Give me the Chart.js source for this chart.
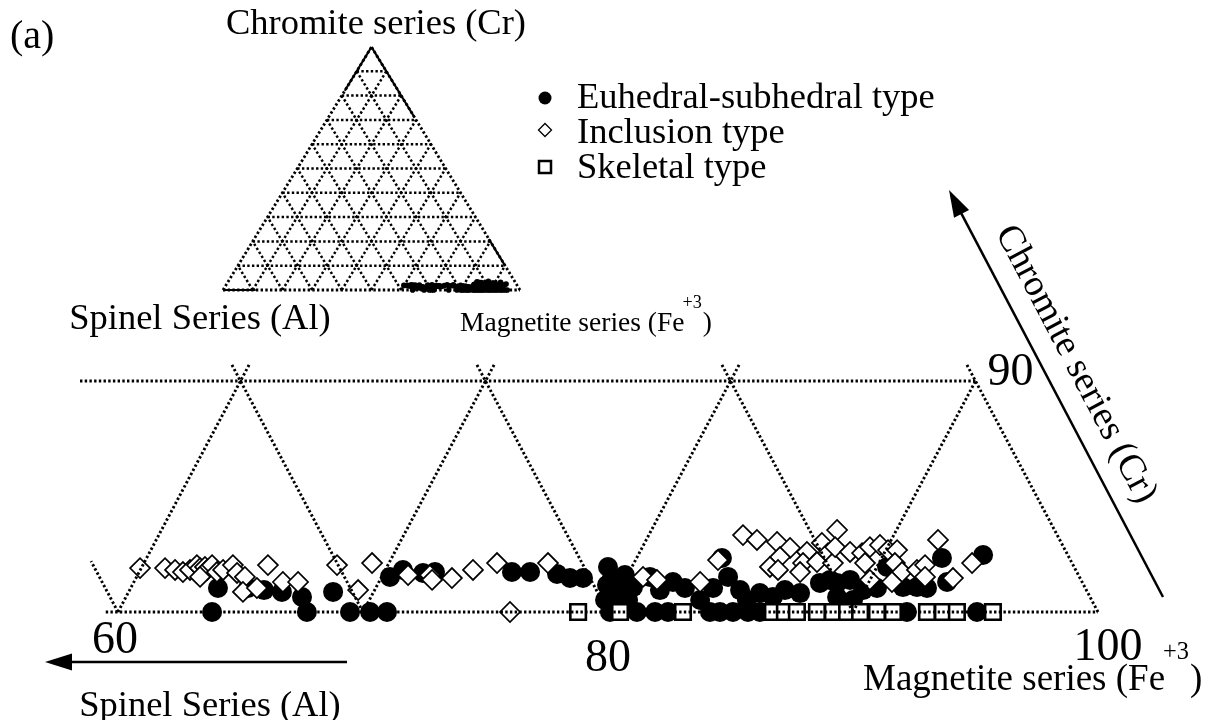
<!DOCTYPE html>
<html>
<head>
<meta charset="utf-8">
<script src="https://cdn.jsdelivr.net/npm/chart.js@4.4.1/dist/chart.umd.min.js"></script>
<style>
  html, body { margin: 0; padding: 0; background: #fff; }
  #spinelChart { display: block; }
</style>
</head>
<body>
<canvas id="spinelChart" width="1212" height="720"></canvas>
<script>
// spinel analyses: position along the Al-Fe base (Fe + Cr/2) and Cr, both in %
var euhedralX = [64.08, 65.31, 65.96, 66.69, 67.51, 68.78, 63.84, 67.71, 69.47, 70.29, 70.98,
    71.10, 71.63, 72.45, 72.94, 76.08, 76.82, 77.92, 78.45, 78.98, 80.00, 79.96, 80.49, 80.29,
    80.16, 80.69, 79.88, 80.82, 81.02, 81.71, 82.12, 82.65, 83.14, 83.76, 84.29, 84.65, 84.90,
    85.39, 85.67, 86.20, 86.73, 87.22, 87.84, 88.65, 89.06, 89.35, 89.35, 89.88, 90.00, 90.41,
    90.98, 91.39, 92.04, 92.61, 93.02, 93.63, 93.84, 95.31,
    80.08, 81.18, 81.92, 82.45, 84.16, 84.57, 85.10, 85.71, 86.20, 92.20, 95.06];
var euhedralCr = [1.04, 1.04, 0.95, 0.87, 0.65, 0.87, 0, 0, 0, 0, 0,
    1.52, 1.82, 1.69, 1.73, 1.73, 1.73, 1.65, 1.47, 1.47, 1.95, 1.17, 0.95, 0.74,
    1.47, 1.60, 0.52, 0.52, 1.08, 1.52, 0.95, 1.30, 1.04, 0.52, 1.04, 2.34, 1.52,
    0.95, 0.52, 0.82, 0.65, 0.95, 0.82, 1.26, 1.39, 1.26, 0.65, 1.39, 0.52, 0.95,
    1.04, 1.95, 1.08, 1.08, 1.04, 2.34, 1.30, 2.47,
    0, 0, 0, 0, 0, 0, 0, 0, 0, 0, 0];

var inclusionX = [60.90, 61.92, 62.33, 62.65, 62.94, 63.22, 63.35, 63.55, 63.63, 63.84, 64.04,
    63.35, 64.29, 64.69, 64.86, 65.18, 65.10, 65.67, 66.12, 66.73, 67.35, 68.94, 69.80, 70.37,
    71.84, 72.73, 72.82, 73.63, 74.49, 75.47, 77.55, 76.00,
    81.43, 82.00, 83.76, 84.49, 85.51, 86.08, 86.90, 87.43, 88.12, 88.73, 89.35, 88.98,
    87.02, 86.61, 86.94, 87.96, 87.84, 88.53, 89.18, 89.27, 89.88, 90.37, 90.69, 91.10,
    91.43, 91.80, 90.49, 91.71, 92.00, 92.61, 92.94, 92.94, 91.59, 90.69, 93.47, 94.86, 94.08];
var inclusionCr = [1.90, 1.90, 1.82, 1.73, 1.82, 2.03, 1.90, 1.95, 1.82, 2.03, 1.73,
    1.52, 1.82, 2.03, 1.69, 1.52, 0.87, 1.04, 2.03, 1.30, 1.30, 2.03, 0.95, 2.12,
    1.60, 1.60, 1.39, 1.47, 1.82, 2.12, 2.12, 0,
    1.52, 1.39, 1.30, 2.25, 3.33, 3.12, 3.03, 2.77, 2.60, 2.99, 3.55, 2.55,
    2.38, 1.95, 1.82, 2.12, 1.73, 2.16, 2.12, 2.81, 2.60, 2.55, 2.81, 2.90,
    2.68, 2.68, 2.12, 2.12, 1.73, 1.82, 2.03, 1.52, 1.30, 1.39, 3.12, 2.12, 1.47];

var skeletalX = [78.78, 80.49, 83.06, 86.73, 87.22, 87.71, 88.53, 89.18, 89.76, 90.29,
    90.98, 91.63, 93.02, 93.67, 94.24, 95.71];
var skeletalCr = [0, 0, 0, 0, 0, 0, 0, 0, 0, 0, 0, 0, 0, 0, 0, 0];

var seriesNames = ['Euhedral-subhedral type', 'Inclusion type', 'Skeletal type'];
var baseTicks = [60, 80, 100];
var topTick = 90;
var gridStep = 10;

var serif = '"Liberation Serif", "Times New Roman", serif';

function toPoints(xs, ys) {
    return xs.map(function (x, i) { return { x: x, y: ys[i] }; });
}

function gridLine(pts, xAxis, yAxis, width, solid) {
    return {
        data: pts.map(function (p) { return { x: p[0], y: p[1] }; }),
        showLine: true,
        pointRadius: 0,
        borderColor: '#000',
        borderWidth: width,
        borderDash: solid ? [] : [2.4, 2.3],
        xAxisID: xAxis,
        yAxisID: yAxis,
        order: 0
    };
}

var datasets = [];

// zoomed part of the triangle: Cr 0-10 band, diagonals poke a little past Cr = 10
var over = 10.75;
var lw = 2.9;
datasets.push(gridLine([[59.5, 0], [100, 0]], 'x', 'y', lw));
datasets.push(gridLine([[58.45, 10], [95, 10]], 'x', 'y', lw));
datasets.push(gridLine([[60, 0], [58.9, 2.2]], 'x', 'y', lw));
for (var k = 60; k <= 90; k += gridStep) {
    var crEnd = k < 90 ? over : 10;
    datasets.push(gridLine([[k, 0], [k + crEnd / 2, crEnd]], 'x', 'y', lw));
}
for (var k = 70; k <= 100; k += gridStep) {
    datasets.push(gridLine([[k, 0], [k - over / 2, over]], 'x', 'y', lw));
}

// small full triangle
for (var c = gridStep; c < 100; c += gridStep) {
    datasets.push(gridLine([[c / 2, c], [100 - c / 2, c]], 'xi', 'yi', 2.5));
    datasets.push(gridLine([[c, 0], [(100 + c) / 2, 100 - c]], 'xi', 'yi', 2.5));
    datasets.push(gridLine([[100 - c, 0], [(100 - c) / 2, 100 - c]], 'xi', 'yi', 2.5));
}
datasets.push(gridLine([[0, 0], [100, 0]], 'xi', 'yi', 2.8));
datasets.push(gridLine([[0, 0], [50, 100]], 'xi', 'yi', 2.8));
datasets.push(gridLine([[100, 0], [50, 100]], 'xi', 'yi', 2.8));
datasets.push(gridLine([[0, 0], [11, 0]], 'xi', 'yi', 2.2, true));
datasets.push(gridLine([[41, 82], [50, 100]], 'xi', 'yi', 2.2, true));
datasets.push(gridLine([[50, 100], [64.5, 71]], 'xi', 'yi', 2.2, true));
datasets.push(gridLine([[89.5, 21], [95, 10]], 'xi', 'yi', 2.2, true));

var allX = euhedralX.concat(inclusionX, skeletalX);
var allCr = euhedralCr.concat(inclusionCr, skeletalCr);
datasets.push({
    data: toPoints(allX, allCr),
    xAxisID: 'xi', yAxisID: 'yi',
    pointStyle: 'circle', pointRadius: 2.8,
    backgroundColor: '#000', borderColor: '#000', borderWidth: 0,
    order: 4
});

datasets.push({
    label: seriesNames[2],
    data: toPoints(skeletalX, skeletalCr),
    xAxisID: 'x', yAxisID: 'y',
    pointStyle: 'rect', pointRadius: 11,
    backgroundColor: '#fff', borderColor: '#000', borderWidth: 2.6,
    order: 1
});
datasets.push({
    label: seriesNames[1],
    data: toPoints(inclusionX, inclusionCr),
    xAxisID: 'x', yAxisID: 'y',
    pointStyle: 'rectRot', pointRadius: 10,
    backgroundColor: '#fff', borderColor: '#000', borderWidth: 1.7,
    order: 2
});
datasets.push({
    label: seriesNames[0],
    data: toPoints(euhedralX, euhedralCr),
    xAxisID: 'x', yAxisID: 'y',
    pointStyle: 'circle', pointRadius: 10,
    backgroundColor: '#000', borderColor: '#000', borderWidth: 0,
    order: 3
});

function text(ctx, str, x, y, size, align) {
    ctx.font = size + 'px ' + serif;
    ctx.textAlign = align || 'left';
    ctx.textBaseline = 'alphabetic';
    ctx.fillText(str, x, y);
    return ctx.measureText(str).width;
}

// "Magnetite series (Fe+3)" with raised charge
function feLabel(ctx, x, y, size) {
    var w = text(ctx, 'Magnetite series (Fe', x, y, size);
    var w2 = text(ctx, '+3', x + w - 2, y - size * 0.85, size * 0.66);
    text(ctx, ')', x + w + w2 - 1, y, size);
}

function arrow(ctx, x1, y1, x2, y2) {
    var a = Math.atan2(y2 - y1, x2 - x1);
    var len = 27, half = 8.5;
    ctx.save();
    ctx.strokeStyle = '#000';
    ctx.lineWidth = 2.5;
    ctx.beginPath();
    ctx.moveTo(x1, y1);
    ctx.lineTo(x2 - Math.cos(a) * len * 0.8, y2 - Math.sin(a) * len * 0.8);
    ctx.stroke();
    ctx.translate(x2, y2);
    ctx.rotate(a);
    ctx.fillStyle = '#000';
    ctx.beginPath();
    ctx.moveTo(0, 0);
    ctx.lineTo(-len, -half);
    ctx.lineTo(-len, half);
    ctx.closePath();
    ctx.fill();
    ctx.restore();
}

var annotations = {
    id: 'annotations',
    afterDraw: function (chart) {
        var ctx = chart.ctx;
        var sx = chart.scales.x, sy = chart.scales.y;
        ctx.save();
        ctx.fillStyle = '#000';

        text(ctx, '(a)', 10, 48, 40);
        text(ctx, 'Chromite series (Cr)', 376, 34, 36.5, 'center');
        text(ctx, 'Spinel Series (Al)', 200, 329, 36.5, 'center');
        feLabel(ctx, 460, 331, 27.5);

        // legend
        ctx.beginPath();
        ctx.arc(545, 98, 6.5, 0, Math.PI * 2);
        ctx.fill();
        ctx.lineWidth = 1.3;
        ctx.beginPath();
        ctx.moveTo(545, 123.5); ctx.lineTo(551.5, 130); ctx.lineTo(545, 136.5); ctx.lineTo(538.5, 130);
        ctx.closePath();
        ctx.stroke();
        ctx.lineWidth = 2.5;
        ctx.strokeRect(539, 161, 12, 12);
        text(ctx, seriesNames[0], 577, 108, 36.5);
        text(ctx, seriesNames[1], 577, 143, 36.5);
        text(ctx, seriesNames[2], 577, 178, 36.5);

        // base values and the Cr = 10 value
        var dx = [-3, 0, 10], base = [653, 671, 660];
        baseTicks.forEach(function (v, i) {
            text(ctx, String(v), sx.getPixelForValue(v) + dx[i], base[i], 46, 'center');
        });
        text(ctx, String(topTick), sx.getPixelForValue(topTick + 5) + 12, sy.getPixelForValue(10) + 4, 46);

        arrow(ctx, 347, 662, 45, 662);
        text(ctx, 'Spinel Series (Al)', 210, 716, 36.5, 'center');
        feLabel(ctx, 863, 690, 37);

        arrow(ctx, 1163, 597, 949, 190);
        ctx.save();
        ctx.translate(1067, 369);
        ctx.rotate(Math.atan2(597 - 190, 1163 - 949));
        text(ctx, 'Chromite series (Cr)', 0, 0, 37.5, 'center');
        ctx.restore();

        ctx.restore();
    }
};

function hiddenAxis(min, max) {
    return { type: 'linear', display: false, min: min, max: max };
}

new Chart(document.getElementById('spinelChart'), {
    type: 'scatter',
    data: { datasets: datasets },
    options: {
        responsive: false,
        animation: false,
        events: [],
        layout: { padding: 0, autoPadding: false },
        plugins: {
            legend: { display: false },
            tooltip: { enabled: false }
        },
        scales: {
            x: hiddenAxis(55.184, 104.653),
            y: hiddenAxis(-4.675, 26.494),
            xi: hiddenAxis(-75.084, 333.0),
            yi: hiddenAxis(-176.95, 119.34)
        }
    },
    plugins: [annotations]
});
</script>
</body>
</html>
